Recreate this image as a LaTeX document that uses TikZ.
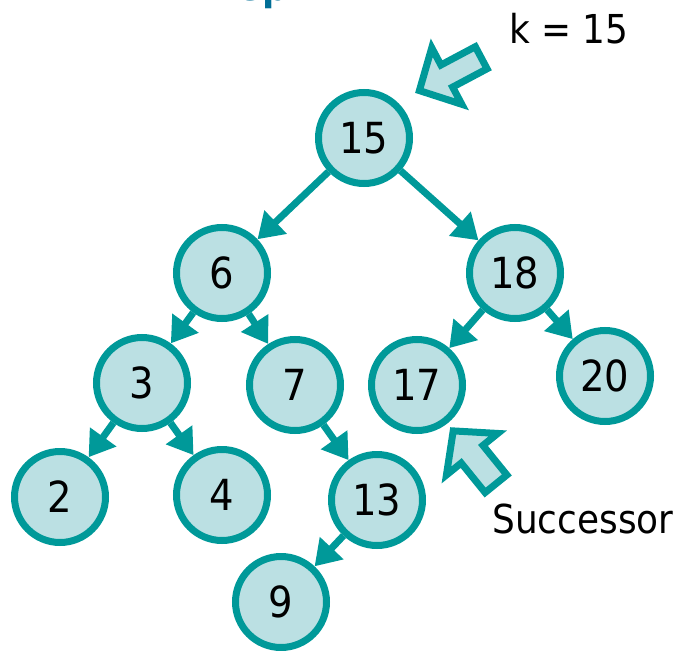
\documentclass[tikz,border=0pt]{standalone}
\usepackage{fontspec}
\setmainfont{DejaVu Sans Condensed}
\newfontfamily\symfont{DejaVu Sans}
\usetikzlibrary{arrows.meta}
\definecolor{tealc}{RGB}{0,153,153}
\definecolor{fillc}{RGB}{187,224,227}
\definecolor{titleblue}{RGB}{0,110,150}
\begin{document}
\begin{tikzpicture}[x=1bp,y=-1bp,
  bnode/.style={circle, draw=tealc, fill=fillc, line width=7bp, minimum size=91bp, inner sep=0pt, font=\fontsize{43}{43}\selectfont},
  edge/.style={draw=tealc, line width=7bp, -{Triangle[length=25bp,width=31bp]}},
  blockarrow/.style={draw=tealc, fill=fillc, line width=7bp, line join=miter},
  lbl/.style={anchor=base, inner sep=0pt, font=\fontsize{40}{40}\selectfont}]
\useasboundingbox (0,0) rectangle (681,651);
% title fragment (clipped by the page)
\node[anchor=base west, inner sep=0pt, text=titleblue, font=\symfont\fontsize{40}{40}\selectfont] (bul) at (146,1) {➢};
\node[anchor=base west, inner sep=0pt, text=titleblue, font=\bfseries\fontsize{40}{40}\selectfont] (ttl) at (210,1) {Rep};
% nodes
\node[bnode] (n15) at (364,138) {15};
\node[bnode] (n6) at (222,273) {6};
\node[bnode] (n18) at (515,273) {18};
\node[bnode] (n3) at (142,383) {3};
\node[bnode] (n7) at (295,385) {7};
\node[bnode] (n17) at (417,385) {17};
\node[bnode] (n20) at (605,376) {20};
\node[bnode] (n2) at (60,497) {2};
\node[bnode] (n4) at (222,495) {4};
\node[bnode] (n13) at (377,500) {13};
\node[bnode] (n9) at (281,602) {9};
% edges
\draw[edge] (n15) -- (n6);
\draw[edge] (n15) -- (n18);
\draw[edge] (n6) -- (n3);
\draw[edge] (n6) -- (n7);
\draw[edge] (n18) -- (n17);
\draw[edge] (n18) -- (n20);
\draw[edge] (n3) -- (n2);
\draw[edge] (n3) -- (n4);
\draw[edge] (n7) -- (n13);
\draw[edge] (n13) -- (n9);
% block arrows
\begin{scope}[shift={(419.4,90.6)}, rotate=28]
\draw[blockarrow] (0,0) -- (31,32) -- (31,12.5) -- (70,12.5) -- (70,-12.5) -- (31,-12.5) -- (31,-32) -- cycle;
\end{scope}
\begin{scope}[shift={(453.2,430.9)}, rotate=-51]
\draw[blockarrow] (0,0) -- (30,33) -- (30,14) -- (68,14) -- (68,-14) -- (30,-14) -- (30,-33) -- cycle;
\end{scope}
% labels
\node[lbl] (k) at (569,44) {k = 15};
\node[lbl] (succ) at (583,533) {Successor};
\end{tikzpicture}
\end{document}
